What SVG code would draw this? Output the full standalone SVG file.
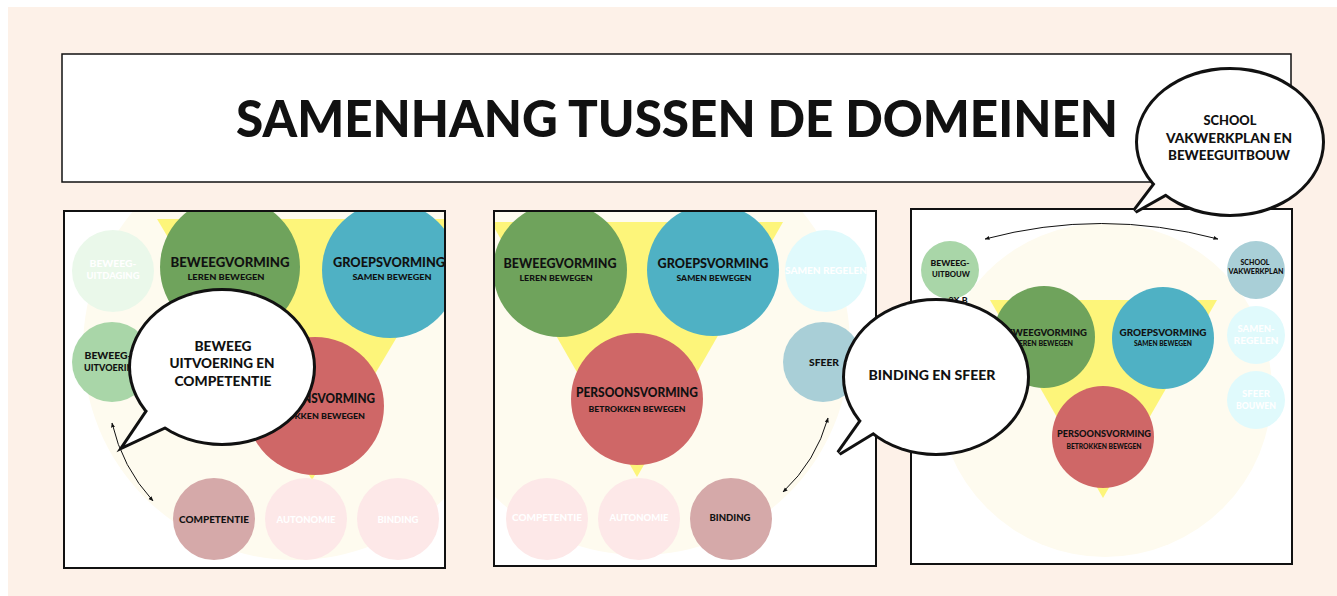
<svg xmlns="http://www.w3.org/2000/svg" width="1337" height="596" viewBox="0 0 1337 596">
<defs>
<style>
.t{font-family:Lato,"Liberation Sans",Arial,sans-serif;font-weight:900;text-anchor:middle;dominant-baseline:central}
.k{fill:#111}
.w{fill:#ffffff}
.panel{fill:none;stroke:#111;stroke-width:2}
.cream{fill:#FEFBEF}
.tri{fill:#FDF57A}
.green{fill:#6FA35C}
.teal{fill:#4FB1C4}
.red{fill:#CF6767}
.lgreen{fill:#A9D6A8}
.fgreen{fill:#EAF8EA}
.rose{fill:#D5A9A9}
.fpink{fill:#FDE8E8}
.blue{fill:#A9CFD7}
.fcyan{fill:#E0FAFC}
.bs{fill:#111;stroke:#111;stroke-width:6;stroke-linejoin:miter}
.bf{fill:#ffffff}
.arr{fill:none;stroke:#111;stroke-width:1;marker-start:url(#ah);marker-end:url(#ah)}
</style>
<marker id="ah" viewBox="0 0 10 10" refX="9" refY="5" markerWidth="5" markerHeight="5" markerUnits="userSpaceOnUse" orient="auto-start-reverse">
<path d="M0,1 L10,5 L0,9 Z" fill="#111"/>
</marker>
<clipPath id="c1"><rect x="64" y="211" width="381" height="357"/></clipPath>
<clipPath id="c2"><rect x="494" y="211" width="382" height="355"/></clipPath>
<clipPath id="c3"><rect x="911" y="209" width="381" height="355"/></clipPath>
</defs>

<rect x="0" y="0" width="1337" height="596" fill="#ffffff"/>
<rect x="8" y="7" width="1329" height="589" fill="#FDF1E8"/>

<g id="title">
<rect x="62" y="54" width="1229" height="128" fill="#ffffff" stroke="#111" stroke-width="1.5"/>
<text class="t k" x="677" y="117" font-size="52" textLength="882" lengthAdjust="spacingAndGlyphs">SAMENHANG TUSSEN DE DOMEINEN</text>
</g>

<!-- Panel 1 -->
<g id="panel1">
<rect x="64" y="211" width="381" height="357" fill="#ffffff"/>
<g clip-path="url(#c1)">
<circle class="cream" cx="295" cy="348" r="212"/>
<polygon class="tri" points="157,219 467,219 312,480"/>
<g id="p1-beweegvorming"><circle class="green" cx="230" cy="267" r="70"/>
<text class="t k" x="230" y="262" font-size="13" textLength="119" lengthAdjust="spacingAndGlyphs">BEWEEGVORMING</text>
<text class="t k" x="226" y="277" font-size="8" textLength="77" lengthAdjust="spacingAndGlyphs">LEREN BEWEGEN</text></g>
<g id="p1-groepsvorming"><circle class="teal" cx="390" cy="270" r="68"/>
<text class="t k" x="389" y="262" font-size="13" textLength="112" lengthAdjust="spacingAndGlyphs">GROEPSVORMING</text>
<text class="t k" x="392" y="277" font-size="8" textLength="79" lengthAdjust="spacingAndGlyphs">SAMEN BEWEGEN</text></g>
<g id="p1-persoonsvorming"><circle class="red" cx="315" cy="406" r="69"/>
<text class="t k" x="315" y="398" font-size="13" textLength="120" lengthAdjust="spacingAndGlyphs">PERSOONSVORMING</text>
<text class="t k" x="315" y="416" font-size="8" textLength="100" lengthAdjust="spacingAndGlyphs">BETROKKEN BEWEGEN</text></g>
<g id="p1-uitdaging"><circle class="fgreen" cx="113" cy="271" r="41"/>
<text class="t w" x="113" y="263" font-size="9" textLength="47" lengthAdjust="spacingAndGlyphs">BEWEEG-</text>
<text class="t w" x="113" y="275" font-size="9" textLength="53" lengthAdjust="spacingAndGlyphs">UITDAGING</text></g>
<g id="p1-uitvoering"><circle class="lgreen" cx="112" cy="362" r="40"/>
<text class="t k" x="108" y="355" font-size="9" textLength="47" lengthAdjust="spacingAndGlyphs">BEWEEG-</text>
<text class="t k" x="112" y="367" font-size="9" textLength="56" lengthAdjust="spacingAndGlyphs">UITVOERING</text></g>
<g id="p1-competentie"><circle class="rose" cx="214" cy="519" r="41"/>
<text class="t k" x="214" y="519" font-size="9.5" textLength="70" lengthAdjust="spacingAndGlyphs">COMPETENTIE</text></g>
<g id="p1-autonomie"><circle class="fpink" cx="306" cy="519" r="41"/>
<text class="t w" x="306" y="519" font-size="9.5" textLength="59" lengthAdjust="spacingAndGlyphs">AUTONOMIE</text></g>
<g id="p1-binding"><circle class="fpink" cx="398" cy="519" r="41"/>
<text class="t w" x="398" y="519" font-size="9.5" textLength="41" lengthAdjust="spacingAndGlyphs">BINDING</text></g>
</g>
<rect class="panel" x="64" y="211" width="381" height="357"/>
</g>

<!-- Panel 2 -->
<g id="panel2">
<rect x="494" y="211" width="382" height="355" fill="#ffffff"/>
<g clip-path="url(#c2)">
<circle class="cream" cx="640" cy="345" r="210"/>
<polygon class="tri" points="491,222 783,222 637,477"/>
<g id="p2-beweegvorming"><circle class="green" cx="560" cy="270" r="67"/>
<text class="t k" x="560" y="263" font-size="13" textLength="113" lengthAdjust="spacingAndGlyphs">BEWEEGVORMING</text>
<text class="t k" x="556" y="278" font-size="8" textLength="73" lengthAdjust="spacingAndGlyphs">LEREN BEWEGEN</text></g>
<g id="p2-groepsvorming"><circle class="teal" cx="713" cy="270" r="66"/>
<text class="t k" x="713" y="263" font-size="13" textLength="111" lengthAdjust="spacingAndGlyphs">GROEPSVORMING</text>
<text class="t k" x="714" y="278" font-size="8" textLength="75" lengthAdjust="spacingAndGlyphs">SAMEN BEWEGEN</text></g>
<g id="p2-persoonsvorming"><circle class="red" cx="637" cy="399" r="66"/>
<text class="t k" x="637" y="392" font-size="13" textLength="122" lengthAdjust="spacingAndGlyphs">PERSOONSVORMING</text>
<text class="t k" x="637" y="409" font-size="8" textLength="97" lengthAdjust="spacingAndGlyphs">BETROKKEN BEWEGEN</text></g>
<g id="p2-samenregelen"><circle class="fcyan" cx="826" cy="271" r="41"/>
<text class="t w" x="826" y="270" font-size="9.5" textLength="82" lengthAdjust="spacingAndGlyphs">SAMEN REGELEN</text></g>
<g id="p2-sfeer"><circle class="blue" cx="823" cy="362" r="40"/>
<text class="t k" x="824" y="362" font-size="9.5" textLength="30" lengthAdjust="spacingAndGlyphs">SFEER</text></g>
<g id="p2-competentie"><circle class="fpink" cx="547" cy="519" r="41"/>
<text class="t w" x="547" y="517" font-size="9.5" textLength="70" lengthAdjust="spacingAndGlyphs">COMPETENTIE</text></g>
<g id="p2-autonomie"><circle class="fpink" cx="639" cy="519" r="41"/>
<text class="t w" x="639" y="517" font-size="9.5" textLength="59" lengthAdjust="spacingAndGlyphs">AUTONOMIE</text></g>
<g id="p2-binding"><circle class="rose" cx="731" cy="519" r="41"/>
<text class="t k" x="730" y="517" font-size="9.5" textLength="41" lengthAdjust="spacingAndGlyphs">BINDING</text></g>
</g>
<rect class="panel" x="494" y="211" width="382" height="355"/>
</g>

<!-- Panel 3 -->
<g id="panel3">
<rect x="911" y="209" width="381" height="355" fill="#ffffff"/>
<g clip-path="url(#c3)">
<circle class="cream" cx="1105" cy="390" r="167"/>
<polygon class="tri" points="990,300 1217,300 1103,498"/>
<g id="p3-beweegvorming"><circle class="green" cx="1044" cy="337" r="51"/>
<text class="t k" x="1044" y="332" font-size="10" textLength="86" lengthAdjust="spacingAndGlyphs">BEWEEGVORMING</text>
<text class="t k" x="1044" y="343" font-size="6.5" textLength="58" lengthAdjust="spacingAndGlyphs">LEREN BEWEGEN</text></g>
<g id="p3-groepsvorming"><circle class="teal" cx="1163" cy="338" r="51"/>
<text class="t k" x="1163" y="332" font-size="10" textLength="87" lengthAdjust="spacingAndGlyphs">GROEPSVORMING</text>
<text class="t k" x="1163" y="343" font-size="6.5" textLength="58" lengthAdjust="spacingAndGlyphs">SAMEN BEWEGEN</text></g>
<g id="p3-persoonsvorming"><circle class="red" cx="1103" cy="437" r="51"/>
<text class="t k" x="1104" y="433" font-size="10" textLength="94" lengthAdjust="spacingAndGlyphs">PERSOONSVORMING</text>
<text class="t k" x="1104" y="446" font-size="6.5" textLength="75" lengthAdjust="spacingAndGlyphs">BETROKKEN BEWEGEN</text></g>
<g id="p3-beweeguitbouw"><circle class="lgreen" cx="950" cy="270" r="29"/>
<text class="t k" x="950" y="263" font-size="8" textLength="39" lengthAdjust="spacingAndGlyphs">BEWEEG-</text>
<text class="t k" x="951" y="274" font-size="8" textLength="38" lengthAdjust="spacingAndGlyphs">UITBOUW</text></g>
<text class="t k" x="958" y="300" font-size="8" textLength="19" lengthAdjust="spacingAndGlyphs">2X B</text>
<g id="p3-vakwerkplan"><circle class="blue" cx="1256" cy="270" r="29"/>
<text class="t k" x="1255" y="262" font-size="8" textLength="29" lengthAdjust="spacingAndGlyphs">SCHOOL</text>
<text class="t k" x="1256" y="271" font-size="8" textLength="55" lengthAdjust="spacingAndGlyphs">VAKWERKPLAN</text></g>
<g id="p3-samenregelen"><circle class="fcyan" cx="1256" cy="335" r="29"/>
<text class="t w" x="1256" y="328" font-size="9" textLength="37" lengthAdjust="spacingAndGlyphs">SAMEN-</text>
<text class="t w" x="1256" y="340" font-size="9" textLength="45" lengthAdjust="spacingAndGlyphs">REGELEN</text></g>
<g id="p3-sfeerbouwen"><circle class="fcyan" cx="1256" cy="400" r="29"/>
<text class="t w" x="1256" y="393" font-size="9" textLength="28" lengthAdjust="spacingAndGlyphs">SFEER</text>
<text class="t w" x="1256" y="405" font-size="9" textLength="40" lengthAdjust="spacingAndGlyphs">BOUWEN</text></g>
</g>
<rect class="panel" x="911" y="209" width="381" height="355"/>
</g>

<g id="connectors">
<path class="arr" d="M112,423 Q122,467 153,501"/>
<path class="arr" d="M828,418 Q816,461 783,492"/>
<path class="arr" d="M985,239 Q1101,208 1218,239"/>
</g>

<!-- Speech bubbles -->
<g id="bubble1">
<ellipse class="bs" cx="222" cy="367" rx="91" ry="76"/>
<polygon class="bs" points="152,405 125,445 168,425"/>
<ellipse class="bf" cx="222" cy="367" rx="91" ry="76"/>
<polygon class="bf" points="152,405 125,445 168,425"/>
<text class="t k" x="223" y="345" font-size="14" textLength="57" lengthAdjust="spacingAndGlyphs">BEWEEG</text>
<text class="t k" x="222" y="362" font-size="14" textLength="105" lengthAdjust="spacingAndGlyphs">UITVOERING EN</text>
<text class="t k" x="223" y="380" font-size="14" textLength="97" lengthAdjust="spacingAndGlyphs">COMPETENTIE</text>
</g>

<g id="bubble2">
<ellipse class="bs" cx="936" cy="377" rx="91" ry="76"/>
<polygon class="bs" points="868,412 839,453 880,428"/>
<ellipse class="bf" cx="936" cy="377" rx="91" ry="76"/>
<polygon class="bf" points="868,412 839,453 880,428"/>
<text class="t k" x="932" y="374" font-size="14" textLength="127" lengthAdjust="spacingAndGlyphs">BINDING EN SFEER</text>
</g>

<g id="bubble3">
<ellipse class="bs" cx="1230" cy="142" rx="92" ry="72"/>
<polygon class="bs" points="1160,178 1135,211 1172,190"/>
<ellipse class="bf" cx="1230" cy="142" rx="92" ry="72"/>
<polygon class="bf" points="1160,178 1135,211 1172,190"/>
<text class="t k" x="1230" y="120" font-size="13" textLength="53" lengthAdjust="spacingAndGlyphs">SCHOOL</text>
<text class="t k" x="1229" y="138" font-size="13" textLength="126" lengthAdjust="spacingAndGlyphs">VAKWERKPLAN EN</text>
<text class="t k" x="1229" y="155" font-size="13" textLength="122" lengthAdjust="spacingAndGlyphs">BEWEEGUITBOUW</text>
</g>
</svg>
